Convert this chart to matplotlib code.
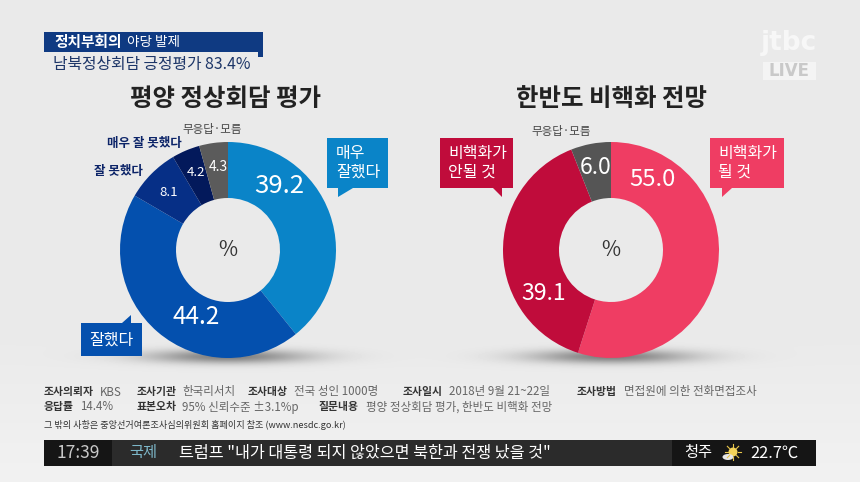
#!/usr/bin/env python3
"""Two poll donuts on a news screen, laid out in screen pixels."""

import numpy as np
import matplotlib
matplotlib.use("Agg")
import matplotlib.pyplot as plt
from matplotlib.patches import Polygon, Rectangle, Circle, Ellipse

plt.rcParams["font.family"] = ["Noto Sans CJK KR", "DejaVu Sans"]

W, H = 860, 482

# data
left_title = "평양 정상회담 평가"
left_values = [39.2, 44.2, 8.1, 4.2, 4.3]
left_colors = ["#0a84c8", "#0450ae", "#062f86", "#03195b", "#5b5b5b"]
left_text_pos = [(279, 186), (196, 317), (169, 192), (196, 173), (218, 167)]
left_text_size = [19.5, 18.5, 10, 10, 10.5]

right_title = "한반도 비핵화 전망"
right_values = [55.0, 39.1, 6.0]
right_colors = ["#ef3d63", "#c00c3b", "#555555"]
right_text_pos = [(652, 180), (544, 293), (596, 168)]
right_text_size = [18, 17.5, 17.5]

footer_bold = [
    (44, 392, "조사의뢰자"), (137, 392, "조사기관"), (248, 392, "조사대상"),
    (403, 392, "조사일시"), (577, 392, "조사방법"),
    (44, 407, "응답률"), (137, 407, "표본오차"), (319, 407, "질문내용"),
]
footer_plain = [
    (100, 392, "KBS"), (182, 392, "한국리서치"), (294, 392, "전국 성인 1000명"),
    (449, 392, "2018년 9월 21~22일"), (624, 392, "면접원에 의한 전화면접조사"),
    (80, 407, "14.4%"), (182, 407, "95% 신뢰수준 ±3.1%p"),
    (366, 407, "평양 정상회담 평가, 한반도 비핵화 전망"),
]


def callout(ax, x0, y0, x1, y1, tail, color):
    # box with a small triangle; tail = (base_a, base_b, tip_x, tip_y, base_y)
    ax.add_patch(Rectangle((x0, y0), x1 - x0, y1 - y0, color=color, lw=0, zorder=3))
    a, b, tx, ty, by = tail
    ax.add_patch(Polygon([(a, by), (b, by), (tx, ty)], color=color, lw=0, zorder=3))


def donut(fig, cx, cy, values, colors):
    r_out, r_in = 108, 52
    m = 2
    pie = fig.add_axes([(cx - r_out - m) / W, 1 - (cy + r_out + m) / H,
                        (2 * r_out + 2 * m) / W, (2 * r_out + 2 * m) / H], zorder=1)
    pie.pie(values, colors=colors, startangle=90, counterclock=False, radius=1,
            wedgeprops={"width": 1 - r_in / r_out, "linewidth": 0})
    lim = (r_out + m) / r_out
    pie.set_xlim(-lim, lim)
    pie.set_ylim(-lim, lim)
    pie.patch.set_alpha(0)


fig = plt.figure(figsize=(W / 100, H / 100), dpi=100, facecolor="#e9e9e9")

# background with the soft shadows under the donuts
bg = fig.add_axes([0, 0, 1, 1], zorder=0)
yy, xx = np.mgrid[0:H, 0:W]
shade = 0.915 + 0.03 * np.clip((yy - 330) / 150, 0, 1)
for cx in (228, 611):
    shade -= 0.42 * np.exp(-((xx - cx) / 80) ** 2 - ((yy - 356) / 7) ** 2)
bg.imshow(shade, cmap="gray", vmin=0, vmax=1, extent=(0, W, H, 0), aspect="auto")
bg.axis("off")

donut(fig, 228, 250, left_values, left_colors)
donut(fig, 611, 250, right_values, right_colors)

ax = fig.add_axes([0, 0, 1, 1], zorder=2)
ax.set_xlim(0, W)
ax.set_ylim(H, 0)
ax.axis("off")
ax.patch.set_alpha(0)

# header
ax.add_patch(Rectangle((44, 32), 219, 20, color="#0f3a82", lw=0))
ax.add_patch(Rectangle((258, 50), 5, 7, color="#0f3a82", lw=0))
ax.text(54, 42, "정치부회의", color="white", fontsize=10.6, fontweight="bold", va="center")
ax.text(127, 42, "야당 발제", color="white", fontsize=9.8, va="center")
ax.text(53, 65, "남북정상회담 긍정평가 83.4%", color="#1d3668", fontsize=11.4,
        fontweight="medium", va="center")

# logo
ax.text(789, 43, "jtbc", color="#f7f7f7", fontsize=19, fontweight="bold",
        ha="center", va="center", family="DejaVu Sans")
ax.add_patch(Rectangle((763, 62), 53, 18, color="#f4f4f4", lw=0))
ax.text(789.5, 71, "LIVE", color="#c9c9c9", fontsize=12, fontweight="bold",
        ha="center", va="center", family="DejaVu Sans")

# titles
ax.text(226, 99, left_title, color="#222222", fontsize=17.6, fontweight="bold",
        ha="center", va="center")
ax.text(611, 99, right_title, color="#222222", fontsize=17.6, fontweight="bold",
        ha="center", va="center")

# value labels
for values, pos, size in ((left_values, left_text_pos, left_text_size),
                          (right_values, right_text_pos, right_text_size)):
    for v, (x, y), s in zip(values, pos, size):
        ax.text(x, y, f"{v:.1f}", color="white", fontsize=s * 0.95, fontweight="medium",
                ha="center", va="center")
ax.text(228, 250, "%", color="#333333", fontsize=15, ha="center", va="center")
ax.text(611, 250, "%", color="#333333", fontsize=15, ha="center", va="center")

# outside labels
ax.text(212, 129, "무응답·모름", color="#444444", fontsize=8.3, fontweight="medium",
        ha="center", va="center")
ax.text(144, 143, "매우 잘 못했다", color="#0c2468", fontsize=9, fontweight="bold",
        ha="center", va="center")
ax.text(118, 171, "잘 못했다", color="#0c2468", fontsize=9, fontweight="bold",
        ha="center", va="center")
ax.text(561, 131, "무응답·모름", color="#444444", fontsize=8.3, fontweight="medium",
        ha="center", va="center")

# callouts
callout(ax, 327, 138, 388, 188, (338, 353, 338, 197, 188), "#0a84c8")
ax.text(336, 163, "매우\n잘했다", color="white", fontsize=11.5, va="center", linespacing=1.15)
callout(ax, 81, 323, 142, 356, (122, 131, 131, 315, 323), "#0450ae")
ax.text(111, 340, "잘했다", color="white", fontsize=11.5, ha="center", va="center")
callout(ax, 440, 138, 513, 188, (493, 502, 502, 197, 188), "#c00c3b")
ax.text(448, 163, "비핵화가\n안될 것", color="white", fontsize=11.5, va="center", linespacing=1.15)
callout(ax, 710, 138, 784, 188, (722, 732, 722, 197, 188), "#ef3d63")
ax.text(718, 163, "비핵화가\n될 것", color="white", fontsize=11.5, va="center", linespacing=1.15)

# survey notes
for x, y, s in footer_bold:
    ax.text(x, y, s, color="#333333", fontsize=7.8, fontweight="bold", va="center")
for x, y, s in footer_plain:
    ax.text(x, y, s, color="#666666", fontsize=8.3, va="center")
ax.text(44, 425, "그 밖의 사항은 중앙선거여론조사심의위원회 홈페이지 참조 (www.nesdc.go.kr)",
        color="#333333", fontsize=6.55, va="center")

# ticker
ax.add_patch(Rectangle((44, 440), 772, 26, color="#2b2b2b", lw=0))
ax.add_patch(Rectangle((44, 440), 68, 26, color="#151515", lw=0))
ax.add_patch(Rectangle((672, 440), 144, 26, color="#151515", lw=0))
ax.text(78, 453, "17:39", color="#c8c8c8", fontsize=12.5, ha="center", va="center")
ax.text(143, 453, "국제", color="#7db7c9", fontsize=11, fontweight="medium", ha="center", va="center")
ax.text(179, 453, '트럼프 "내가 대통령 되지 않았으면 북한과 전쟁 났을 것"', color="white",
        fontsize=11.7, fontweight="medium", va="center")
ax.text(684, 453, "청주", color="white", fontsize=11, va="center")
ax.text(750, 453, "22.7℃", color="white", fontsize=11.8, va="center")

# weather icon
for a in np.deg2rad(np.arange(0, 360, 45)):
    ax.plot([733 + 5 * np.cos(a), 733 + 8 * np.cos(a)],
            [452 + 5 * np.sin(a), 452 + 8 * np.sin(a)], color="#e8c64a", lw=0.8)
ax.add_patch(Circle((733, 452), 4.5, color="#f3d35a", lw=0))
ax.add_patch(Ellipse((728, 457), 11, 6, color="#e6e6e6", lw=0))

fig.savefig("out.png", dpi=100, facecolor=fig.get_facecolor())
